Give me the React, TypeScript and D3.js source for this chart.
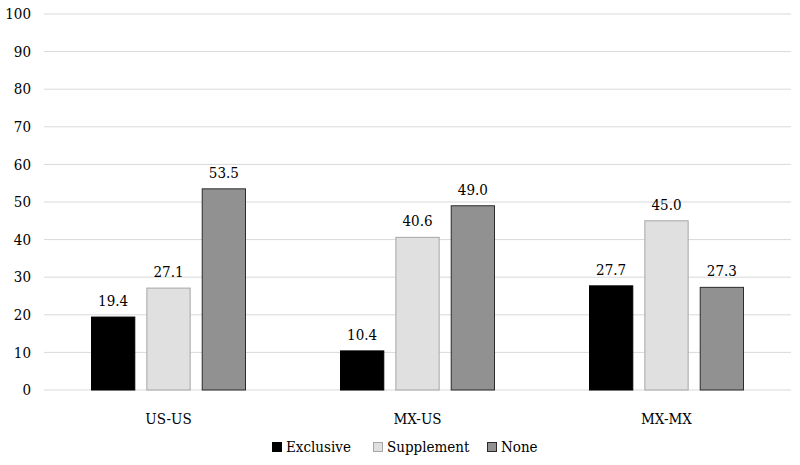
import React from "react";
import * as d3 from "d3";

const categories = ["US-US", "MX-US", "MX-MX"];
const seriesNames = ["Exclusive", "Supplement", "None"];
const exclusive = [19.4, 10.4, 27.7];
const supplement = [27.1, 40.6, 45.0];
const none = [53.5, 49.0, 27.3];
const yTicks = [0, 10, 20, 30, 40, 50, 60, 70, 80, 90, 100];

const seriesValues = [exclusive, supplement, none];
const fills = ["#000000", "#e0e0e0", "#919191"];
const strokes = ["#000000", "#a6a6a6", "#2b2b2b"];

const W = 800;
const H = 465;
const left = 44;
const right = 791;
const top = 14;
const bottom = 390;
const font = "'DejaVu Serif Condensed', 'DejaVu Serif', serif";
const txt = { fontFamily: font, fontSize: 15, fontStretch: "condensed" as const };

export default function App() {
  const x0 = d3.scaleBand<string>().domain(categories).range([left, right]).padding(0);
  const y = d3.scaleLinear().domain([0, 100]).range([bottom, top]);

  const groupW = 155;
  const gx = (c: string) => x0(c)! + (x0.bandwidth() - groupW) / 2;
  const sx = d3.scaleBand<string>().domain(seriesNames).range([0, groupW]).paddingInner(0.2);

  const legendX = [272, 373, 487];

  return (
    <div style={{ position: "absolute", left: 0, top: 0 }}>
      <svg width={W} height={H} style={{ display: "block", background: "#fff" }}>
        {yTicks.map((t) => (
          <g key={t}>
            <line x1={left} x2={right} y1={y(t)} y2={y(t)} stroke="#d9d9d9" strokeWidth={1} />
            <text x={31} y={y(t)} dy="0.35em" textAnchor="end" style={txt} fill="#000">
              {t}
            </text>
          </g>
        ))}
        {categories.map((c, ci) => (
          <g key={c} transform={`translate(${gx(c)},0)`}>
            {seriesNames.map((s, si) => {
              const v = seriesValues[si][ci];
              const bx = sx(s)!;
              const bw = sx.bandwidth();
              return (
                <g key={s}>
                  <rect x={bx + 0.5} y={y(v)} width={bw - 1} height={y(0) - y(v)} fill={fills[si]} stroke={strokes[si]} strokeWidth={1} />
                  <text x={bx + bw / 2} y={y(v) - 11} textAnchor="middle" style={txt} fill="#000">
                    {v.toFixed(1)}
                  </text>
                </g>
              );
            })}
            <text x={groupW / 2} y={424} textAnchor="middle" style={txt} fill="#000">
              {c}
            </text>
          </g>
        ))}
        {seriesNames.map((s, si) => (
          <g key={s}>
            <rect x={legendX[si] + 0.5} y={442.5} width={9} height={9} fill={fills[si]} stroke={strokes[si]} strokeWidth={1} />
            <text x={legendX[si] + 14} y={452} style={txt} fill="#000">
              {s}
            </text>
          </g>
        ))}
      </svg>
    </div>
  );
}
